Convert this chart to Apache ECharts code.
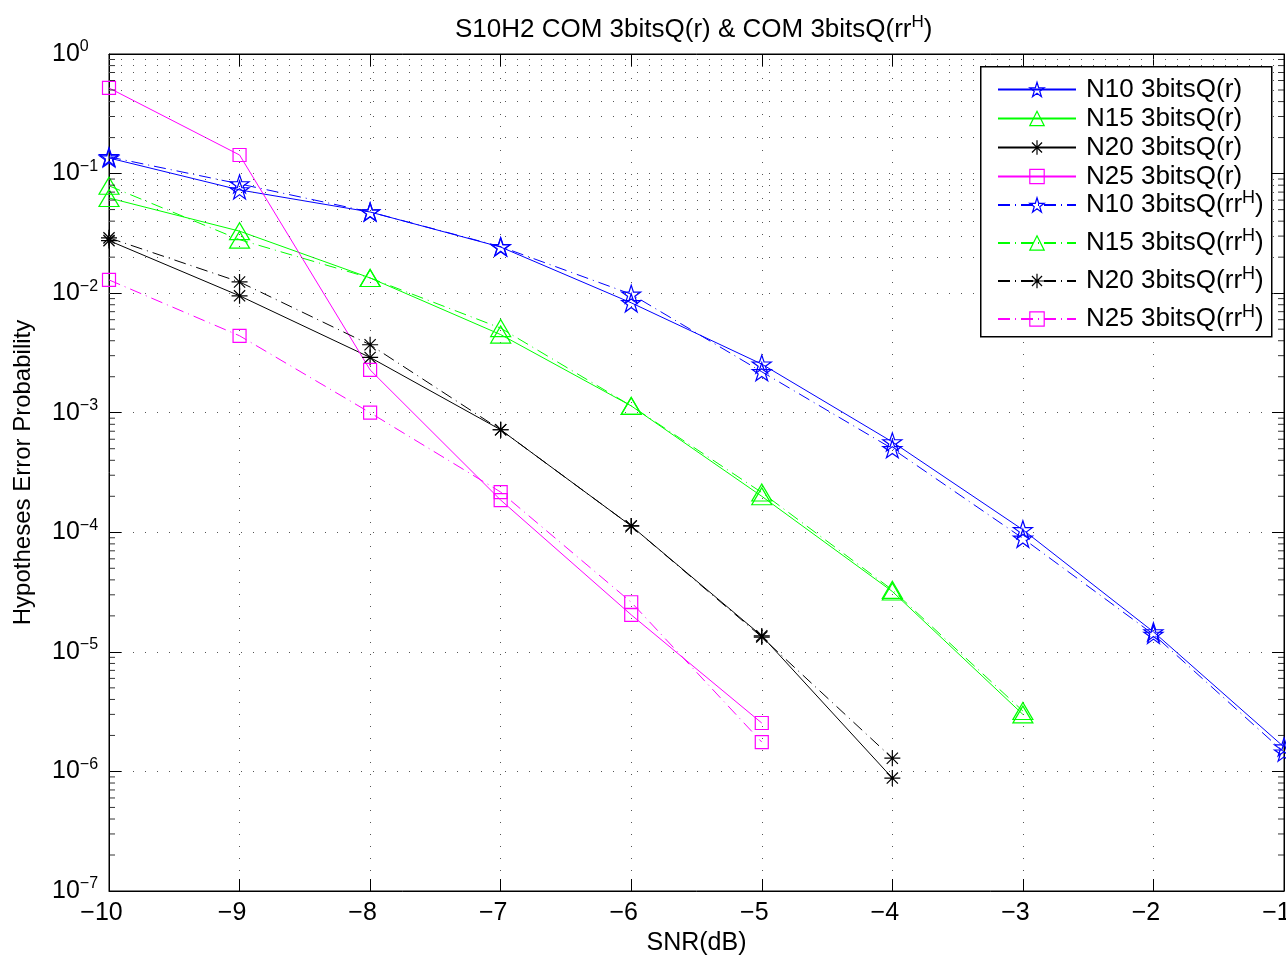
<!DOCTYPE html>
<html><head><meta charset="utf-8">
<script src="https://cdn.jsdelivr.net/npm/echarts@6/dist/echarts.min.js"></script>
<style>html,body{margin:0;padding:0;background:#fff}#c{width:1286px;height:956px}</style>
</head><body><div id="c"></div>
<script>
const snr = [-10, -9, -8, -7, -6, -5, -4, -3, -2, -1];
const n10_r   = [0.135, 0.073, 0.0477, 0.0243, 0.0083, 0.00255, 5.7e-4, 1.05e-4, 1.47e-5, 1.6e-6];
const n10_rrH = [0.138, 0.082, 0.0477, 0.0245, 0.0098, 0.0022, 5.0e-4, 8.9e-5, 1.4e-5, 1.45e-6];
const n15_r   = [0.0625, 0.033, 0.0134, 0.0045, 0.00114, 2.0e-4, 3.2e-5, 3.0e-6];
const n15_rrH = [0.079, 0.028, 0.0134, 0.0051, 0.00114, 2.15e-4, 3.3e-5, 3.2e-6];
const n20_r   = [0.0275, 0.0095, 0.0029, 7.2e-4, 1.13e-4, 1.36e-5, 8.8e-7];
const n20_rrH = [0.029, 0.0124, 0.0037, 7.2e-4, 1.13e-4, 1.33e-5, 1.29e-6];
const n25_r   = [0.52, 0.143, 0.00228, 1.86e-4, 2.04e-5, 2.54e-6];
const n25_rrH = [0.0129, 0.0044, 1.0e-3, 2.17e-4, 2.6e-5, 1.76e-6];
const seriesNames = ['N10 3bitsQ(r)','N15 3bitsQ(r)','N20 3bitsQ(r)','N25 3bitsQ(r)',
  'N10 3bitsQ(rrH)','N15 3bitsQ(rrH)','N20 3bitsQ(rrH)','N25 3bitsQ(rrH)'];
const minorMant = [2,3,4,5,6,7,8,9];
const decades = [-7,-6,-5,-4,-3,-2,-1];

const FONT = 'Liberation Sans';
const STAR = 'path://M50,0 L61.2,34.5 L97.5,34.5 L68.1,55.9 L79.4,90.5 L50,69.1 L20.6,90.5 L31.9,55.9 L2.5,34.5 L38.8,34.5 Z';
const AST = 'path://M50,0 L50,100 M0,50 L100,50 M15,15 L85,85 M85,15 L15,85';
const DASHDOT = [12, 5, 1, 5];
const CLEAR = 'rgba(255,255,255,0)';

function pairs(ys){ return ys.map((v,i)=>[snr[i], v]); }
function mk(name, ys, color, sym, size, dashed){
  return {
    name, type:'line', data: pairs(ys), symbol: sym, symbolSize: size,
    showSymbol: true, z: 3,
    lineStyle: {color, width: 1, type: dashed ? DASHDOT : 'solid'},
    itemStyle: {color: CLEAR, borderColor: color, borderWidth: 1.2},
    emphasis: {disabled: true}, animation: false
  };
}
const series = [
  mk(seriesNames[0], n10_r, '#0000ff', STAR, [19,18], false),
  mk(seriesNames[1], n15_r, '#00ff00', 'triangle', [20,17], false),
  mk(seriesNames[2], n20_r, '#000000', AST, 16, false),
  mk(seriesNames[3], n25_r, '#ff00ff', 'rect', 13, false),
  mk(seriesNames[4], n10_rrH, '#0000ff', STAR, [19,18], true),
  mk(seriesNames[5], n15_rrH, '#00ff00', 'triangle', [20,17], true),
  mk(seriesNames[6], n20_rrH, '#000000', AST, 16, true),
  mk(seriesNames[7], n25_rrH, '#ff00ff', 'rect', 13, true)
];
const minorVals = [];
decades.forEach(d => minorMant.forEach(m => minorVals.push(m * Math.pow(10, d))));
series[0].markLine = {
  silent: true, symbol: 'none', label: {show: false}, animation: false,
  lineStyle: {color: '#555', width: 1, type: [1, 11]},
  data: minorVals.map(v => ({yAxis: v}))
};
// minor ticks on the left and right frame edges
[[snr[0], 3], [snr[snr.length - 1], -3]].forEach(([xv, off]) => {
  series.push({
    type: 'scatter', silent: true, z: 4, animation: false,
    symbol: 'rect', symbolSize: [6, 1], symbolOffset: [off, 0],
    itemStyle: {color: '#000'}, emphasis: {disabled: true},
    data: minorVals.map(v => [xv, v])
  });
});
function legendFmt(n){ return n.endsWith('rrH)') ? n.replace('rrH)', 'rr{sup|H})') : n; }
function expLabel(v){
  const e = Math.round(Math.log10(v));
  return '10{sup|' + (e < 0 ? '\u2212' + (-e) : e) + '}';
}
const legendCommon = {
  orient: 'vertical', left: 992, z: 60, itemWidth: 78, itemHeight: 18,
  itemStyle: {color: CLEAR, borderColor: 'inherit', borderWidth: 1.2},
  selectedMode: false
};

const chart = echarts.init(document.getElementById('c'));
chart.setOption({
  backgroundColor: '#fff',
  animation: false,
  title: {
    text: 'S10H2 COM 3bitsQ(r) & COM 3bitsQ(rr{sup|H})',
    left: 455, top: 14, padding: 0,
    textStyle: {fontFamily: FONT, fontSize: 26, fontWeight: 'normal', color: '#000',
      rich: {sup: {fontFamily: FONT, fontSize: 17, color: '#000', padding: [0,0,14,0]}}}
  },
  grid: {left: 109, right: 2, top: 54, bottom: 65, show: true, borderColor: '#000', borderWidth: 1,
         outerBoundsMode: 'none', containLabel: false},
  graphic: [{type: 'rect', left: 980, top: 66, z: 50,
    shape: {width: 291, height: 270}, style: {fill: '#fff', stroke: '#000', lineWidth: 1.5}}],
  legend: [
    Object.assign({}, legendCommon, {data: seriesNames.slice(0,4), top: 70, itemGap: 0,
     textStyle: {fontFamily: FONT, fontSize: 26, color: '#000', lineHeight: 29, padding: [0,0,0,5]}}),
    Object.assign({}, legendCommon, {data: seriesNames.slice(4), top: 184, itemGap: 7,
     formatter: legendFmt,
     textStyle: {fontFamily: FONT, fontSize: 26, color: '#000', lineHeight: 30, padding: [0,0,0,5],
       rich: {sup: {fontFamily: FONT, fontSize: 18, color: '#000', padding: [0,0,14,0]}}}})
  ],
  xAxis: [
    {type: 'value', min: -10, max: -1, interval: 1, position: 'bottom',
     name: 'SNR(dB)', nameLocation: 'middle', nameGap: 36,
     nameTextStyle: {fontFamily: FONT, fontSize: 25, color: '#000'},
     axisLine: {show: true, lineStyle: {color: '#000', width: 1}},
     axisTick: {show: true, inside: true, length: 12, lineStyle: {color: '#000'}},
     axisLabel: {fontFamily: FONT, fontSize: 25, color: '#000', margin: 10, padding: [0, 15, 0, 0],
       formatter: v => (v < 0 ? '\u2212' : '') + Math.abs(v)},
     splitLine: {show: true, lineStyle: {color: '#555', width: 1, type: [1, 11]}}},
    {type: 'value', min: -10, max: -1, interval: 1, position: 'top',
     axisLine: {show: true, lineStyle: {color: '#000'}},
     axisTick: {show: true, inside: true, length: 12, lineStyle: {color: '#000'}},
     axisLabel: {show: false}, splitLine: {show: false}}
  ],
  yAxis: [
    {type: 'log', logBase: 10, min: 1e-7, max: 1, splitNumber: 7, position: 'left',
     name: 'Hypotheses Error Probability', nameLocation: 'middle', nameGap: 74,
     nameTextStyle: {fontFamily: FONT, fontSize: 24, color: '#000'},
     axisLine: {show: true, lineStyle: {color: '#000'}},
     axisTick: {show: true, inside: true, length: 12, lineStyle: {color: '#000'}},
     axisLabel: {fontFamily: FONT, fontSize: 25, color: '#000', margin: 57, align: 'left',
       formatter: expLabel,
       rich: {sup: {fontFamily: FONT, fontSize: 16, color: '#000', padding: [0,0,14,0]}}},
     splitLine: {show: true, lineStyle: {color: '#555', width: 1, type: [1, 11]}}},
    {type: 'log', logBase: 10, min: 1e-7, max: 1, splitNumber: 7, position: 'right',
     axisLine: {show: true, lineStyle: {color: '#000'}},
     axisTick: {show: true, inside: true, length: 12, lineStyle: {color: '#000'}},
     axisLabel: {show: false}, splitLine: {show: false}}
  ],
  series
});
</script></body></html>
